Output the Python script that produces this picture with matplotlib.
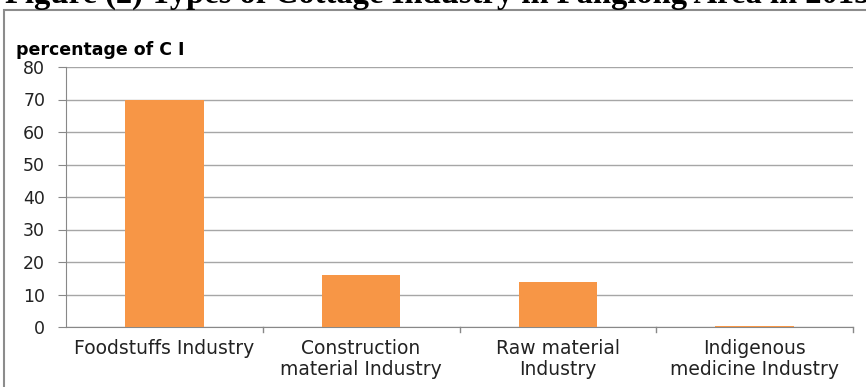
import matplotlib
matplotlib.use("Agg")
import matplotlib.pyplot as plt
from matplotlib.patches import Rectangle

categories = ["Foodstuffs Industry", "Construction\nmaterial Industry",
              "Raw material\nIndustry", "Indigenous\nmedicine Industry"]
values = [70, 16, 14, 0.4]
yticks = [0, 10, 20, 30, 40, 50, 60, 70, 80]

W, H = 866, 387
fig = plt.figure(figsize=(W / 100, H / 100), dpi=100)
plt.rcParams["font.family"] = ["DejaVu Sans"]

# chart frame (left and top visible, rest runs off the picture)
fig.patches.append(Rectangle((4 / W, -0.1), 1.1, 1 - 10 / H + 0.1,
                             transform=fig.transFigure, fill=False,
                             edgecolor="#8c8c8c", linewidth=1.5))

# page title, cut off by the top edge as in the source
fig.text(0.505, 1 + 6 / H, "Figure (2) Types of Cottage Industry in Panglong Area in 2015",
         ha="center", va="center", fontsize=23.5, fontweight="bold",
         family="Liberation Serif")

ax = fig.add_axes([66 / W, 1 - 327 / H, (853 - 66) / W, 260 / H])
x = range(len(categories))
ax.bar(x, values, width=0.4, color="#f79646", zorder=3)
ax.set_xlim(-0.5, len(categories) - 0.5)
ax.set_ylim(0, 80)
ax.set_yticks(yticks)
ax.set_xticks(list(x))
ax.set_xticklabels(categories, fontsize=13.5, color="#222222", linespacing=1.1)
ax.tick_params(axis="y", labelsize=12.5, length=6, color="#888888", pad=9,
               labelcolor="#222222")
ax.tick_params(axis="x", length=0, pad=9)
# category separator ticks
for b in [0.5, 1.5, 2.5, 3.5]:
    ax.plot([b, b], [0, -1.5], color="#888888", lw=1, clip_on=False)
ax.grid(axis="y", color="#a6a6a6", lw=1, zorder=0)
for s in ["top", "right"]:
    ax.spines[s].set_visible(False)
ax.spines["left"].set_color("#888888")
ax.spines["bottom"].set_color("#888888")

fig.text(16 / W, 1 - 50 / H, "percentage of C I", fontsize=12.5,
         fontweight="bold", va="center", ha="left")

fig.savefig("out.png", dpi=100)
